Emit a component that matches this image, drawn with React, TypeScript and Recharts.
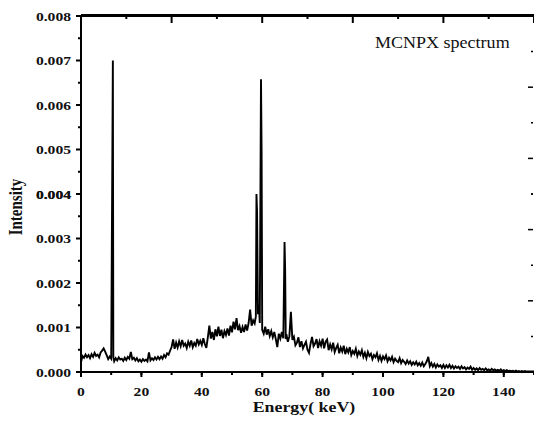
import { Line, LineChart, ReferenceLine, XAxis, YAxis } from 'recharts';

// Intensity is kept in units of 1e-4 (the axis formatter turns 10 into "0.001").
// [energy keV, intensity]
const lowRange: [number, number][] = [
    [0, 2.2], [0.5, 3.6], [1, 3.2], [1.5, 3.9], [2, 3.3], [2.5, 3.8], [3, 3.1], [3.5, 4.0], [4, 3.4], [4.5, 4.3],
    [5, 3.6], [5.5, 3.9], [6, 3.3], [6.5, 4.4], [7, 4.8], [7.5, 5.3], [8, 4.6], [8.5, 3.8], [9, 2.9], [9.5, 3.5],
    [10, 3.0], [10.4, 51], [10.55, 70], [10.7, 3.4], [11, 2.4], [11.5, 3.1], [12, 2.6], [12.5, 3.3], [13, 2.8], [13.5, 3.0],
    [14, 2.5], [14.5, 3.2], [15, 2.7], [15.5, 3.4], [16, 3.0], [16.5, 4.5], [17, 2.9], [17.5, 3.2], [18, 2.6], [18.5, 3.1],
    [19, 2.4], [19.5, 2.8], [20, 2.3], [20.5, 2.9], [21, 2.5], [21.5, 2.8], [22, 2.4], [22.5, 4.4], [23, 2.6], [23.5, 3.1],
    [24, 2.7], [24.5, 3.3], [25, 2.8], [25.5, 3.4], [26, 2.9], [26.5, 3.5], [27, 3.0], [27.5, 3.8], [28, 3.3], [28.5, 4.2],
    [29, 3.9], [29.5, 4.8],
];

const midRange: [number, number][] = [
    [30, 5.6], [30.5, 7.3], [31, 5.2], [31.5, 6.6], [32, 5.5], [32.5, 6.9], [33, 5.8], [33.5, 7.2], [34, 5.9], [34.5, 6.4],
    [35, 5.4], [35.5, 6.8], [36, 5.9], [36.5, 7.1], [37, 5.6], [37.5, 6.5], [38, 5.9], [38.5, 7.4], [39, 6.2], [39.5, 7.0],
    [40, 6.1], [40.5, 7.6], [41, 6.3], [41.5, 5.4], [42, 7.8], [42.5, 10.4], [43, 7.5], [43.5, 9.0], [44, 7.2], [44.5, 9.6],
    [45, 8.0], [45.5, 10.2], [46, 8.1], [46.5, 9.5], [47, 7.6], [47.5, 9.2], [48, 8.3], [48.5, 9.8], [49, 8.2], [49.5, 10.4],
    [50, 8.9], [50.5, 11.3], [51, 9.6], [51.5, 12.1], [52, 9.4], [52.5, 10.3], [53, 8.8], [53.5, 10.1], [54, 9.0], [54.5, 10.7],
    [55, 9.3], [55.5, 11.0], [56, 14.0], [56.5, 10.4], [57, 11.6], [57.5, 10.9],
    // Kα / Kβ lines
    [57.9, 12.5], [58.1, 40], [58.3, 36], [58.6, 13], [58.9, 15], [59.2, 11], [59.6, 65.8], [59.8, 49.7], [60.0, 9.5],
    [60.5, 8.6], [61, 10.2], [61.5, 8.4], [62, 9.6], [62.5, 8.1], [63, 9.2], [63.5, 7.8], [64, 9.0], [64.5, 7.4],
    [65, 5.6], [65.5, 8.6], [66, 7.5], [66.5, 9.0], [67, 7.6], [67.4, 29.2], [67.6, 22.8], [67.8, 7.4], [68, 8.5], [68.5, 6.8],
    [69, 8.0], [69.5, 13.5], [70, 7.2],
];

const highRange: [number, number][] = [
    [70.5, 7.9], [71, 6.0], [71.5, 6.6], [72, 7.8], [72.5, 5.6], [73, 6.9], [73.5, 5.3], [74, 6.1], [74.5, 6.8], [75, 5.0],
    [75.5, 4.3], [76, 6.3], [76.5, 7.9], [77, 5.8], [77.5, 6.4], [78, 7.4], [78.5, 5.4], [79, 6.9], [79.5, 5.9], [80, 7.5],
    [80.5, 5.3], [81, 6.8], [81.5, 7.3], [82, 4.9], [82.5, 6.2], [83, 5.1], [83.5, 6.6], [84, 4.5], [84.5, 5.4], [85, 6.1],
    [85.5, 4.2], [86, 5.5], [86.5, 4.6], [87, 5.9], [87.5, 4.0], [88, 5.2], [88.5, 4.4], [89, 5.6], [89.5, 3.8], [90, 4.7],
    [90.5, 4.1], [91, 5.2], [91.5, 3.6], [92, 4.6], [92.5, 3.9], [93, 4.9], [93.5, 3.4], [94, 4.3], [94.5, 3.1], [95, 4.5],
    [95.5, 3.6], [96, 4.1], [96.5, 2.9], [97, 3.8], [97.5, 3.3], [98, 4.2], [98.5, 2.7], [99, 3.6], [99.5, 2.5], [100, 3.5],
    [100.5, 2.9], [101, 3.7], [101.5, 2.4], [102, 3.2], [102.5, 2.6], [103, 3.4], [103.5, 2.2], [104, 3.0], [104.5, 2.5], [105, 2.2],
    [105.5, 3.1], [106, 2.0], [106.5, 2.7], [107, 2.3], [107.5, 1.8], [108, 2.6], [108.5, 1.9], [109, 2.4], [109.5, 1.6], [110, 2.2],
    [110.5, 1.7], [111, 2.3], [111.5, 1.5], [112, 2.0], [112.5, 1.4], [113, 2.1], [113.5, 1.3], [114, 1.8], [114.5, 2.4], [115, 3.4],
    [115.5, 1.3], [116, 2.0], [116.5, 1.2], [117, 1.8], [117.5, 1.0], [118, 1.7], [118.5, 1.2], [119, 1.5], [119.5, 0.9], [120, 1.6],
    [120.5, 0.9], [121, 1.5], [121.5, 1.0], [122, 1.6], [122.5, 0.9], [123, 1.4], [123.5, 0.8], [124, 1.3], [124.5, 0.9], [125, 1.2],
    [125.5, 0.7], [126, 1.3], [126.5, 0.8], [127, 1.1], [127.5, 0.6], [128, 1.0], [128.5, 0.7], [129, 1.2], [129.5, 0.5], [130, 0.9],
    [130.5, 0.5], [131, 0.8], [131.5, 0.4], [132, 0.9], [132.5, 0.5], [133, 0.7], [133.5, 0.4], [134, 0.8], [134.5, 0.4], [135, 0.6],
    [135.5, 0.3], [136, 0.7], [136.5, 0.4], [137, 0.6], [137.5, 0.3], [138, 0.5], [138.5, 0.3], [139, 0.6], [139.5, 0.2], [140, 0.4],
    [140.5, 0.2], [141, 0.4], [141.5, 0.2], [142, 0.3], [142.5, 0.2], [143, 0.3], [143.5, 0.1], [144, 0.3], [144.5, 0.1], [145, 0.2],
    [145.5, 0.1], [146, 0.2], [146.5, 0.1], [147, 0.2], [147.5, 0.1], [148, 0.1], [148.5, 0.1], [149, 0.1], [149.5, 0.1], [150, 0.1],
];

const bottomTicks = [0, 10, 20, 30, 40, 50, 60, 70, 80, 90, 100, 110, 120, 130, 140, 150];
const topMajorTicks = [0, 30, 60, 90, 120, 150];
const topMinorTicks = [15, 45, 75, 105, 135];
const leftTicks = [0, 5, 10, 15, 20, 25, 30, 35, 40, 45, 50, 55, 60, 65, 70, 75, 80];
const rightTicks = [8, 16, 24, 32, 40, 48, 56, 64, 72];

const spectrum = [...lowRange, ...midRange, ...highRange].map(([energy, intensity]) => ({ energy, intensity }));
const verticalTicks = [...leftTicks, ...rightTicks].sort((a, b) => a - b);

const FONT = '"Liberation Serif", "Times New Roman", serif';
const W = 534;
const H = 421;
const INK = '#000';
const AXIS_W = 2;
const blank = () => '';

// native tick is the 3px minor mark; majors get 5px plus a label
function BottomTick({ x, y, payload }: any) {
    const v = payload.value;
    if (v % 20 !== 0) return <g />;
    const y0 = Number(y) - 5;
    return (
        <g>
            <line x1={x} x2={x} y1={y0} y2={y0 + 5} stroke={INK} strokeWidth={AXIS_W} />
            {v < 150 && (
                <text transform={`translate(${x},${y0 + 24}) scale(1.2,1)`} textAnchor="middle"
                    fontFamily={FONT} fontWeight="bold" fontSize={13} fill="#111">{v}</text>
            )}
        </g>
    );
}

// left ticks point out, right (mirror) ticks point into the plot
function SideTick({ x, y, payload }: any) {
    const v = payload.value;
    const axisX = Number(x) + 10;
    const left = v % 5 === 0;
    const leftMajor = v % 10 === 0;
    const right = v % 8 === 0 && v > 0 && v < 80;
    const rightMajor = v % 16 === 0;
    return (
        <g>
            {left && <line x1={axisX - (leftMajor ? 5 : 3)} x2={axisX} y1={y} y2={y} stroke={INK} strokeWidth={AXIS_W} />}
            {right && <line x1={W - 1 - (rightMajor ? 5 : 2)} x2={W - 1} y1={y} y2={y} stroke={INK} strokeWidth={1.5} />}
            {leftMajor && (
                <text transform={`translate(${x},${Number(y) + 4.5}) scale(1.2,1)`} textAnchor="end"
                    fontFamily={FONT} fontWeight="bold" fontSize={13} fill="#111">{(v / 10000).toFixed(3)}</text>
            )}
        </g>
    );
}

const titleBase = {
    position: 'absolute' as const,
    fontFamily: FONT,
    lineHeight: 1,
    whiteSpace: 'nowrap' as const,
    color: '#111',
    pointerEvents: 'none' as const,
};

export default function App() {
    return (
        <div style={{ position: 'absolute', left: 0, top: 0, width: W, height: H, background: '#fff' }}>
            <LineChart width={W} height={H} data={spectrum} margin={{ top: 14, right: 0, bottom: 0, left: 0 }}>
                <XAxis
                    dataKey="energy" type="number" domain={[0, 150]}
                    ticks={bottomTicks} interval={0} height={49}
                    tickSize={3} tickMargin={2}
                    tickLine={{ stroke: INK, strokeWidth: AXIS_W }}
                    axisLine={{ stroke: INK, strokeWidth: AXIS_W }}
                    tick={BottomTick}
                />
                {/* top mirror axis, ticks point into the plot */}
                <XAxis
                    xAxisId="tminor" orientation="top" dataKey="energy" type="number" domain={[0, 150]}
                    ticks={topMinorTicks} interval={0} height={1}
                    tickSize={-4} tickFormatter={blank}
                    tickLine={{ stroke: INK, strokeWidth: AXIS_W }}
                    axisLine={{ stroke: INK, strokeWidth: AXIS_W }}
                />
                <XAxis
                    xAxisId="tmajor" orientation="top" dataKey="energy" type="number" domain={[0, 150]}
                    ticks={topMajorTicks} interval={0} height={1}
                    tickSize={-7} tickFormatter={blank}
                    tickLine={{ stroke: INK, strokeWidth: AXIS_W }}
                    axisLine={false}
                />
                <YAxis
                    type="number" domain={[0, 80]}
                    ticks={verticalTicks} interval={0} width={81}
                    tickSize={5} tickMargin={5}
                    tickLine={{ stroke: 'none' }}
                    axisLine={{ stroke: INK, strokeWidth: AXIS_W }}
                    tick={SideTick}
                />
                {/* frame edges at the ends of the value range */}
                <ReferenceLine y={0} stroke={INK} strokeWidth={AXIS_W} ifOverflow="visible" />
                <ReferenceLine y={80} stroke={INK} strokeWidth={AXIS_W} ifOverflow="visible" />
                <Line
                    dataKey="intensity"
                    type="linear"
                    stroke="#000"
                    strokeWidth={1.9}
                    dot={false}
                    activeDot={false}
                    isAnimationActive={false}
                />
            </LineChart>
            <div style={{ ...titleBase, left: 304, top: 400, fontSize: 15, fontWeight: 'bold', transform: 'translateX(-50%) scaleX(1.19)' }}>
                Energy( keV)
            </div>
            <div style={{ ...titleBase, left: 17, top: 207, fontSize: 15, fontWeight: 'bold', transform: 'translate(-50%,-50%) rotate(-90deg) scaleY(1.2)' }}>
                Intensity
            </div>
            <div style={{ ...titleBase, left: 375, top: 34, fontSize: 17, transform: 'scaleX(1.06)', transformOrigin: 'left top' }}>
                MCNPX spectrum
            </div>
        </div>
    );
}
